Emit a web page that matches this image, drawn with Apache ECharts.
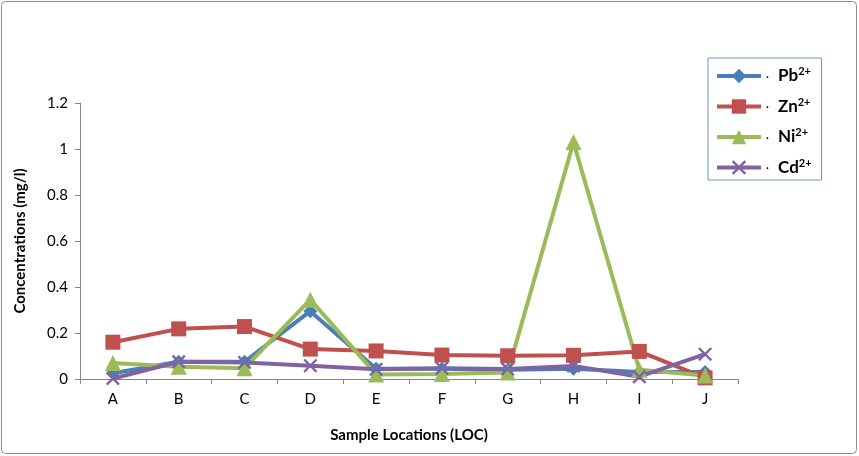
<!DOCTYPE html>
<html>
<head>
<meta charset="utf-8" />
<title>Concentrations</title>
<script src="https://cdn.jsdelivr.net/npm/echarts@6/dist/echarts.min.js"></script>
</head>
<body style="margin:0;background:#fff;">
<div id="chart" style="width:859px;height:456px;"></div>
<script>
// sample locations
var locations = ['A', 'B', 'C', 'D', 'E', 'F', 'G', 'H', 'I', 'J'];
// concentrations in mg/l
var pb = [0.025, 0.075, 0.075, 0.295, 0.045, 0.045, 0.04, 0.045, 0.03, 0.03];
var zn = [0.16, 0.218, 0.228, 0.13, 0.122, 0.104, 0.101, 0.103, 0.12, 0.005];
var ni = [0.07, 0.053, 0.047, 0.345, 0.02, 0.022, 0.028, 1.03, 0.04, 0.015];
var cd = [0.002, 0.075, 0.072, 0.058, 0.042, 0.047, 0.043, 0.057, 0.01, 0.108];
var yTicks = { min: 0, max: 1.2, step: 0.2 };

var font = 'Lato, "Open Sans", sans-serif';
var cross = 'path://M0,1.2L1.2,0L5,3.8L8.8,0L10,1.2L6.2,5L10,8.8L8.8,10L5,6.2L1.2,10L0,8.8L3.8,5Z';

function mkSeries(name, data, color, symbol, size) {
  return {
    name: name,
    type: 'line',
    data: data,
    symbol: symbol,
    symbolSize: size,
    showAllSymbol: true,
    lineStyle: { color: color, width: 4 },
    itemStyle: { color: color },
    emphasis: { disabled: true }
  };
}

var myChart = echarts.init(document.getElementById('chart'));
var option = {
  animation: false,
  textStyle: { fontFamily: font },
  graphic: [{
    type: 'rect',
    shape: { x: 1.5, y: 1.5, width: 855, height: 452, r: 4 },
    style: { fill: 'none', stroke: '#8c8c8c', lineWidth: 1 }
  }],
  grid: { left: 80, right: 121, top: 103, bottom: 77 },
  legend: {
    orient: 'vertical',
    left: 708,
    top: 58,
    width: 114,
    padding: [8, 10, 4, 7],
    itemGap: 12,
    itemWidth: 44,
    itemHeight: 18,
    borderColor: '#6f95c9',
    borderWidth: 1,
    lineStyle: { width: 4 },
    formatter: function (name) {
      var base = name.replace('2+', '');
      return '{d|.}   {b|' + base + '}{s|2+}';
    },
    textStyle: {
      rich: {
        d: { fontSize: 12, color: '#000', fontWeight: 'bold', padding: [0, 0, 4, 0] },
        b: { fontSize: 17, color: '#000', fontWeight: 'bold', fontFamily: font },
        s: { fontSize: 11, color: '#000', fontWeight: 'bold', fontFamily: font, padding: [0, 0, 9, 0] }
      }
    },
    data: ['Pb2+', 'Zn2+', 'Ni2+', 'Cd2+']
  },
  xAxis: {
    type: 'category',
    data: locations,
    boundaryGap: true,
    name: 'Sample Locations (LOC)',
    nameLocation: 'middle',
    nameGap: 49,
    nameTextStyle: { fontSize: 15, fontWeight: 'bold', color: '#000', fontFamily: font },
    axisLine: { lineStyle: { color: '#868686', width: 1 } },
    axisTick: { show: true, length: 5, alignWithLabel: false, lineStyle: { color: '#868686' } },
    axisLabel: { fontSize: 15, color: '#000', margin: 13, fontFamily: font },
    splitLine: { show: false }
  },
  yAxis: {
    type: 'value',
    min: yTicks.min,
    max: yTicks.max,
    interval: yTicks.step,
    name: 'Concentrations (mg/l)',
    nameLocation: 'middle',
    nameGap: 52,
    nameRotate: 90,
    nameTextStyle: { fontSize: 15, fontWeight: 'bold', color: '#000', fontFamily: font },
    axisLine: { show: true, lineStyle: { color: '#868686', width: 1 } },
    axisTick: { show: true, length: 5, lineStyle: { color: '#868686' } },
    axisLabel: { fontSize: 15, color: '#000', margin: 12, fontFamily: font },
    splitLine: { show: false }
  },
  series: [
    mkSeries('Pb2+', pb, '#4a7ebb', 'diamond', 14),
    mkSeries('Zn2+', zn, '#c0504d', 'rect', 15),
    mkSeries('Ni2+', ni, '#9bbb59', 'triangle', 16),
    mkSeries('Cd2+', cd, '#8064a2', cross, 14)
  ]
};
option && myChart.setOption(option);
</script>
</body>
</html>
